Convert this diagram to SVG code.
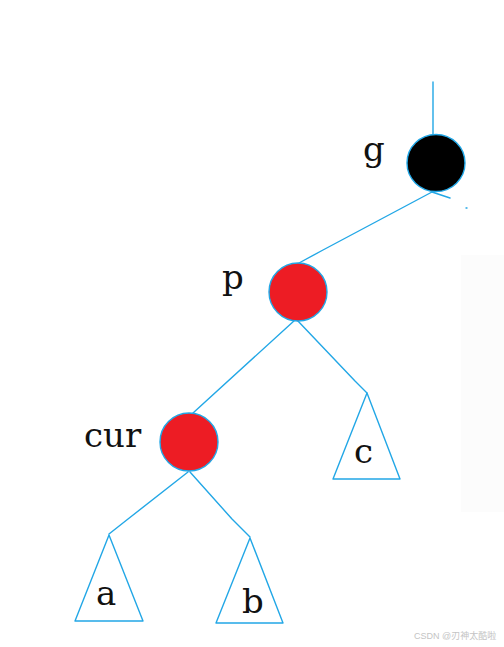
<svg xmlns="http://www.w3.org/2000/svg" width="504" height="647" viewBox="0 0 504 647">
<style>
.e{fill:none;stroke:#22a7e6;stroke-width:1.4;stroke-linejoin:round;stroke-linecap:round}
.n{stroke:#22a7e6;stroke-width:1.4}
.t{font-family:"DejaVu Serif","Liberation Serif",serif;font-size:34px;fill:#111}
.w{font-family:"Liberation Sans","Noto Sans CJK SC",sans-serif;font-size:9px;fill:#c4c4c4}
</style>
<rect width="504" height="647" fill="#fff"/>
<rect x="461" y="255" width="43" height="257" fill="#fcfcfc"/>
<g id="connectors">
<line class="e" x1="433" y1="82" x2="433" y2="135"/>
<polyline class="e" points="432,192 323,250 299,263"/>
<line class="e" x1="432" y1="192" x2="450" y2="198"/>
<line class="e" x1="466" y1="208" x2="467" y2="208"/>
<line class="e" x1="295" y1="320" x2="193" y2="413"/>
<polyline class="e" points="297,320 355,381 367,393"/>
<polyline class="e" points="188,472 128,519 109,534"/>
<polyline class="e" points="190,472 232,519 250,537"/>
</g>
<g id="node-g">
<ellipse class="n" cx="436" cy="163" rx="29" ry="28.5" fill="#000"/>
<text class="t" x="363" y="161">g</text>
</g>
<g id="node-p">
<circle class="n" cx="298" cy="292" r="29" fill="#ed1c24"/>
<text class="t" x="222" y="289">p</text>
</g>
<g id="node-cur">
<circle class="n" cx="189" cy="442" r="29" fill="#ed1c24"/>
<text class="t" x="84" y="447">cur</text>
</g>
<g id="node-c">
<polygon class="e" points="367,393 333,479 400,479"/>
<text class="t" x="354" y="463">c</text>
</g>
<g id="node-a">
<polygon class="e" points="109,535 75,621 143,621"/>
<text class="t" x="96" y="605">a</text>
</g>
<g id="node-b">
<polygon class="e" points="250,538 216,623 283,623"/>
<text class="t" x="242" y="613">b</text>
</g>
<text class="w" x="414" y="639">CSDN @刃神太酷啦</text>
</svg>
